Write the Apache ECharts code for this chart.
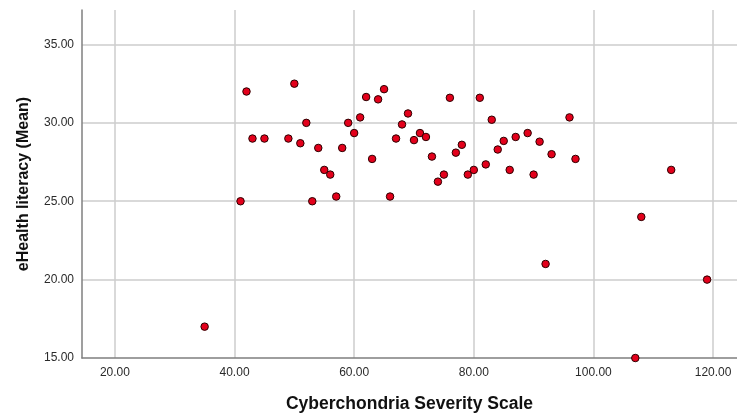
<!DOCTYPE html>
<html>
<head>
<meta charset="utf-8">
<script src="https://cdn.jsdelivr.net/npm/echarts@6/dist/echarts.min.js"></script>
<style>html,body{margin:0;padding:0;background:#fff;}#c{width:737px;height:418px;}</style>
</head>
<body>
<div id="c"></div>
<script>
const xTitle = 'Cyberchondria Severity Scale';
const yTitle = 'eHealth literacy (Mean)';
const severity = [35,41,42,43,45,49,50,51,52,53,54,55,56,57,58,59,60,61,62,63,64,65,66,67,68,69,70,71,72,73,74,75,76,77,78,79,80,81,82,83,84,85,86,87,89,90,91,92,93,96,97,107,108,113,119];
const literacy = [17,25,32,29,29,29,32.5,28.7,30,25,28.4,27,26.7,25.3,28.4,30,29.35,30.35,31.65,27.7,31.5,32.15,25.3,29,29.9,30.6,28.9,29.35,29.1,27.85,26.25,26.7,31.6,28.1,28.6,26.7,27,31.6,27.35,30.2,28.3,28.85,27,29.1,29.35,26.7,28.8,21,28,30.35,27.7,15,24,27,20];
const points = severity.map((v, i) => [v, literacy[i]]);

const chart = echarts.init(document.getElementById('c'), null, {renderer: 'canvas'});
const labelStyle = {color: '#2a2a2a', fontSize: 12, fontFamily: 'Liberation Sans, Arial, sans-serif', formatter: v => v.toFixed(2)};
chart.setOption({
  animation: false,
  backgroundColor: '#fff',
  grid: {left: 82, right: 0, top: 10, bottom: 59, containLabel: false},
  xAxis: {
    type: 'value', min: 14.5, max: 124, minInterval: 20, maxInterval: 20,
    name: xTitle, nameLocation: 'middle', nameGap: 37,
    nameTextStyle: {fontSize: 17.5, fontWeight: 'bold', color: '#111', fontFamily: 'Liberation Sans, Arial, sans-serif', verticalAlign: 'top'},
    axisLine: {show: true, lineStyle: {color: '#7f7f7f', width: 1.5}},
    axisTick: {show: false},
    axisLabel: Object.assign({margin: 9, showMinLabel: false, showMaxLabel: false}, labelStyle),
    splitLine: {show: true, showMinLine: false, showMaxLine: false, lineStyle: {color: '#cccccc', width: 1.5}}
  },
  yAxis: {
    type: 'value', min: 15, max: 37.2, minInterval: 5, maxInterval: 5,
    name: yTitle, nameLocation: 'middle', nameGap: 50,
    nameTextStyle: {fontSize: 16, fontWeight: 'bold', color: '#111', fontFamily: 'Liberation Sans, Arial, sans-serif'},
    axisLine: {show: true, lineStyle: {color: '#7f7f7f', width: 1.5}},
    axisTick: {show: false},
    axisLabel: Object.assign({margin: 8, showMaxLabel: false, showMinLabel: true}, labelStyle),
    splitLine: {show: true, showMinLine: false, showMaxLine: false, lineStyle: {color: '#cccccc', width: 1.5}}
  },
  series: [{
    type: 'scatter',
    data: points,
    symbol: 'circle',
    symbolSize: 7.5,
    itemStyle: {color: '#e3001b', borderColor: '#2b0000', borderWidth: 1, opacity: 1}
  }]
});
</script>
</body>
</html>
